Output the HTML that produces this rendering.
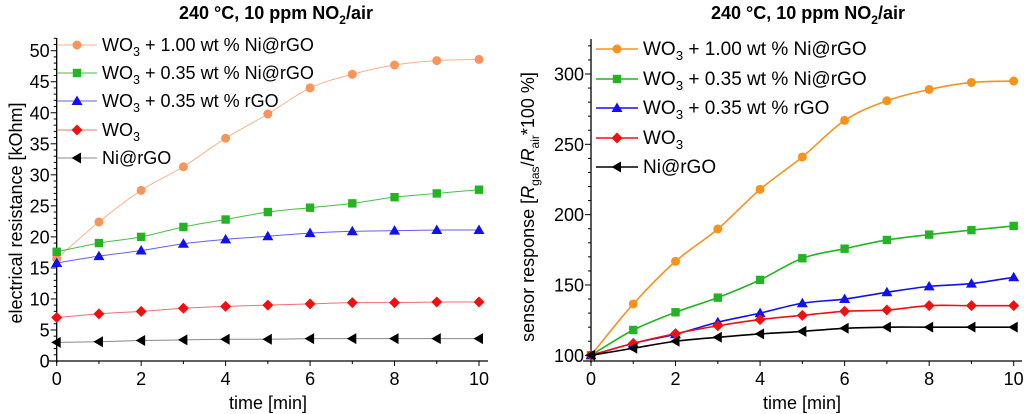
<!DOCTYPE html>
<html><head><meta charset="utf-8"><style>
html,body{margin:0;padding:0;background:#fff;}
svg{display:block;font-family:"Liberation Sans",sans-serif;}
</style></head><body>
<svg id="svg" width="1024" height="414" viewBox="0 0 1024 414" xmlns="http://www.w3.org/2000/svg"></svg>
<script>
const xVals=[0,1,2,3,4,5,6,7,8,9,10];
const xTicks=[0,2,4,6,8,10];
const leftNames=["wo3-1.00-ni-rgo","wo3-0.35-ni-rgo","wo3-0.35-rgo","wo3","ni-rgo"];
const legendSub=["+ 1.00 wt % Ni@rGO","+ 0.35 wt % Ni@rGO","+ 0.35 wt % rGO","",""];
const leftOrange=[16.5,22.4,27.5,31.3,35.9,39.8,44.0,46.2,47.7,48.4,48.6];
const leftGreen=[17.6,19.0,20.0,21.6,22.8,24.0,24.7,25.4,26.4,27.0,27.6];
const leftBlue=[15.8,16.9,17.8,18.9,19.6,20.1,20.6,20.9,21.0,21.1,21.1];
const leftRed=[7.0,7.6,8.0,8.5,8.8,9.0,9.2,9.4,9.4,9.5,9.5];
const leftBlack=[3.0,3.1,3.3,3.4,3.5,3.5,3.6,3.6,3.6,3.6,3.6];
const leftYTicks=[0,5,10,15,20,25,30,35,40,45,50];
const rightOrange=[100,136.5,166.8,189.8,218,241,267,281,289,294,295];
const rightGreen=[100,118,130.6,141,153.6,169,175.8,182,185.8,189,192];
const rightBlue=[100,108.5,115,123.5,130,137,140,144.8,149,151,155.5];
const rightRed=[100,108.5,115.4,121,125.4,128.4,131.3,132.2,135.3,135.3,135.3];
const rightBlack=[100,105,110,112.8,115.2,117,119.2,120,120,120,120];
const rightYTicks=[100,150,200,250,300];

const NS="http://www.w3.org/2000/svg";
const svg=document.getElementById('svg');
function el(tag,attrs,parent){const e=document.createElementNS(NS,tag);for(const k in attrs)e.setAttribute(k,attrs[k]);(parent||svg).appendChild(e);return e;}
function path(pts){let d="M"+pts[0][0]+","+pts[0][1];for(let i=0;i<pts.length-1;i++){const p0=pts[i-1]||pts[i],p1=pts[i],p2=pts[i+1],p3=pts[i+2]||p2;
d+=" C"+(p1[0]+(p2[0]-p0[0])/6)+","+(p1[1]+(p2[1]-p0[1])/6)+" "+(p2[0]-(p3[0]-p1[0])/6)+","+(p2[1]-(p3[1]-p1[1])/6)+" "+p2[0]+","+p2[1];}return d;}
function marker(g,type,x,y,c){
 let m;
 if(type==="circle")m=el('circle',{cx:x,cy:y,r:4.5,fill:c},g);
 else if(type==="square")m=el('rect',{x:x-4.2,y:y-4.2,width:8.4,height:8.4,fill:c},g);
 else if(type==="tri")m=el('polygon',{points:`${x},${y-5.5} ${x+5.5},${y+4} ${x-5.5},${y+4}`,fill:c},g);
 else if(type==="diamond")m=el('polygon',{points:`${x},${y-5.5} ${x+5.5},${y} ${x},${y+5.5} ${x-5.5},${y}`,fill:c},g);
 else m=el('polygon',{points:`${x-5.5},${y} ${x+4},${y-5.5} ${x+4},${y+5.5}`,fill:c},g);
 
 
}
const types=["circle","square","tri","diamond","left"];

function chart(cfg){
 const g=el('g',{});
 
 
 const sx=v=>cfg.x0+(v-0)*(cfg.x1-cfg.x0)/10;
 const sy=v=>cfg.yb+(v-cfg.ymin)*(cfg.yt-cfg.yb)/(cfg.ymax-cfg.ymin);
 const t=el('text',{x:cfg.tx,y:19,'text-anchor':'middle','font-size':18,'font-weight':'bold'},g);
 
 t.innerHTML='240 °C, 10 ppm NO<tspan font-size="12" dy="5">2</tspan><tspan dy="-5">/air</tspan>';
 el('line',{x1:cfg.axL,y1:cfg.axY,x2:cfg.axR,y2:cfg.axY,stroke:'#000','stroke-width':1.3},g);
 el('line',{x1:cfg.x0,y1:cfg.axTop,x2:cfg.x0,y2:cfg.axY+2,stroke:'#000','stroke-width':1.3},g);
 for(let v=0;v<=10;v++){el('line',{x1:sx(v),y1:cfg.axY,x2:sx(v),y2:cfg.axY+(v%2?3:5),stroke:'#000','stroke-width':1},g);}
 xTicks.forEach(v=>{const tt=el('text',{x:sx(v),y:cfg.axY+24,'text-anchor':'middle','font-size':18},g);tt.textContent=v;
  });
 for(let v=cfg.minStart;sy(v)>=cfg.axTop;v+=cfg.minor){const y=sy(v);if(y>cfg.axY)continue;
  const maj=Math.abs(v/cfg.major-Math.round(v/cfg.major))<1e-6;
  el('line',{x1:cfg.x0,y1:y,x2:cfg.x0-(maj?6:3),y2:y,stroke:'#000','stroke-width':1},g);}
 cfg.yTicks.forEach(v=>{const tt=el('text',{x:cfg.x0-7,y:sy(v)+6.5,'text-anchor':'end','font-size':18},g);tt.textContent=v;
  });
 const xl=el('text',{x:cfg.xlx,y:409,'text-anchor':'middle','font-size':18},g);xl.textContent='time [min]';
 
 const yl=el('text',{x:0,y:0,'text-anchor':'middle','font-size':cfg.ylfs,transform:`translate(${cfg.ylx},${cfg.yly}) rotate(-90)`},g);
 
 yl.innerHTML=cfg.ylabel;
 cfg.series.forEach((s,i)=>{
  const sg=el('g',{},g);
  
  
  const pts=xVals.map((x,j)=>[sx(x),sy(s[j])]);
  el('path',{d:path(pts),fill:'none',stroke:cfg.lineColors[i],'stroke-width':cfg.lw},sg);
  pts.forEach(p=>marker(sg,types[i],p[0],p[1],cfg.colors[i]));
  const lg=el('g',{},g);
  
  
  const ly=cfg.legY[i];
  el('line',{x1:cfg.legX,y1:ly,x2:cfg.legX+cfg.legW,y2:ly,stroke:cfg.lineColors[i],'stroke-width':cfg.lw},lg);
  marker(lg,types[i],cfg.legX+cfg.legW/2,ly,cfg.colors[i]);
  const lt=el('text',{x:cfg.legX+cfg.legW+5,y:ly+6,'font-size':cfg.lfs},lg);
  if(i<4)lt.innerHTML='WO<tspan font-size="'+(cfg.lfs*0.7)+'" dy="5">3</tspan><tspan dy="-5">'+(legendSub[i]?' '+legendSub[i]:'')+'</tspan>';
  else lt.textContent='Ni@rGO';
 });
}
chart({name:'resistance-chart',x0:56.7,x1:479,yb:361,yt:50.7,ymin:0,ymax:50,axL:49,axR:488,axY:361,axTop:38,
 minStart:0,minor:1,major:5,yTicks:leftYTicks,tx:276,xlx:268,ylx:22,yly:213,ylfs:18,
 ylabel:'electrical resistance [kOhm]',series:[leftOrange,leftGreen,leftBlue,leftRed,leftBlack],
 colors:['#f7955a','#22b422','#1010f0','#f01010','#000'],lineColors:['#f9b08a','#44c044','#6060f0','#f07070','#888'],lw:1,
 legX:57,legW:40,legY:[45,73,101,130,158],lfs:18});
chart({name:'response-chart',x0:591,x1:1013.7,yb:355.3,yt:74,ymin:100,ymax:300,axL:583,axR:1022,axY:361,axTop:39,
 minStart:100,minor:10,major:50,yTicks:rightYTicks,tx:808,xlx:802,ylx:534,yly:207,ylfs:18,
 ylabel:'sensor response [<tspan font-style="italic">R</tspan><tspan font-size="12" dy="5">gas</tspan><tspan dy="-5">/</tspan><tspan font-style="italic">R</tspan><tspan font-size="12" dy="5">air</tspan><tspan dy="-5">*100 %]</tspan>',
 series:[rightOrange,rightGreen,rightBlue,rightRed,rightBlack],
 colors:['#f7921e','#22b422','#1010f0','#f01010','#000'],lineColors:['#f7921e','#22b422','#1010f0','#f01010','#000'],lw:1.6,
 legX:596,legW:42,legY:[49,79,108,138,167],lfs:19});
</script>
</body></html>
